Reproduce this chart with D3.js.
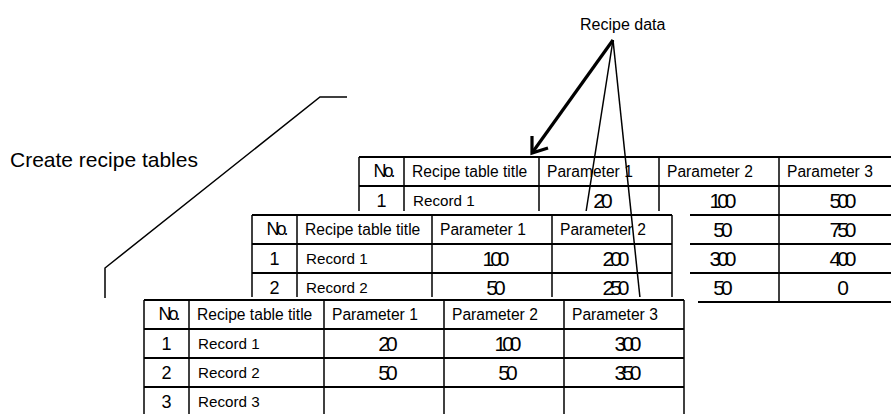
<!DOCTYPE html>
<html><head><meta charset="utf-8">
<script src="https://cdn.jsdelivr.net/npm/d3@7"></script>
<style>body{margin:0;background:#fff} svg{display:block}</style>
</head><body>
<script>
// ---------- data ----------
const headers = ["No.", "Recipe table title", "Parameter 1", "Parameter 2", "Parameter 3"];
// back table (partly hidden)
const tableANo = ["1", "", "", ""];
const tableATitles = ["Record 1", "", "", ""];
const tableAParam1 = [20, null, null, null];
const tableAParam2 = [100, 50, 300, 50];
const tableAParam3 = [500, 750, 400, 0];
// middle table
const tableBNo = ["1", "2"];
const tableBTitles = ["Record 1", "Record 2"];
const tableBParam1 = [100, 50];
const tableBParam2 = [200, 250];
// front table
const tableCNo = ["1", "2", "3"];
const tableCTitles = ["Record 1", "Record 2", "Record 3"];
const tableCParam1 = [20, 50, null];
const tableCParam2 = [100, 50, null];
const tableCParam3 = [300, 350, null];
const labels = ["Create recipe tables", "Recipe data"];

// ---------- layout ----------
const W = 891, H = 414;
const FONT = "'Liberation Sans', Arial, Helvetica, sans-serif";
const colWidths = [45, 135, 120, 120, 120];
const rowH = 29;

const svg = d3.select("body").append("svg").attr("width", W).attr("height", H)
  .style("font-family", FONT);

function drawTable(cfg) {
  const nCols = cfg.cols.length + 2;
  const edges = [0, ...Array.from(d3.cumsum(colWidths.slice(0, nCols)))];
  const total = edges[nCols];
  const x = d3.scaleLinear().domain([0, total]).range([cfg.x, cfg.x + total]);
  const nRows = cfg.no.length + 1;
  const y = d3.scaleLinear().domain([0, nRows]).range([cfg.y, cfg.y + nRows * rowH]);
  const g = svg.append("g");
  if (cfg.mask) {
    const m = cfg.mask;
    g.append("rect").attr("x", x(0) - m[3]).attr("y", y(0) - m[0])
      .attr("width", x(total) - x(0) + m[1] + m[3])
      .attr("height", y(nRows) - y(0) + m[0] + m[2]).attr("fill", "#fff");
  }
  // horizontal lines
  g.append("g").selectAll("line").data(d3.range(nRows + 1)).join("line")
    .attr("x1", x(0)).attr("x2", x(total))
    .attr("y1", d => y(d)).attr("y2", d => y(d))
    .attr("stroke", "#000").attr("stroke-width", 1.8);
  // vertical lines
  g.append("g").selectAll("line").data(edges).join("line")
    .attr("x1", d => x(d)).attr("x2", d => x(d))
    .attr("y1", y(0)).attr("y2", y(nRows))
    .attr("stroke", "#000").attr("stroke-width", 1.5);
  const hdr = headers.slice(0, nCols);
  // header texts
  g.append("g").selectAll("text").data(hdr).join("text")
    .attr("x", (d, i) => i === 0 ? (x(edges[0]) + x(edges[1])) / 2 + 1.5 : x(edges[i]) + 8)
    .attr("y", (y(0) + y(1)) / 2 + 5.5)
    .attr("text-anchor", (d, i) => i === 0 ? "middle" : "start")
    .attr("font-size", (d, i) => i === 0 ? 18 : 15.6)
    .attr("letter-spacing", (d, i) => i === 0 ? -3 : 0)
    .text(d => d);
  // row numbers
  g.append("g").selectAll("text").data(cfg.no).join("text")
    .attr("x", (x(edges[0]) + x(edges[1])) / 2)
    .attr("y", (d, i) => (y(i + 1) + y(i + 2)) / 2 + 6.5)
    .attr("text-anchor", "middle").attr("font-size", 18).text(d => d);
  // record titles
  g.append("g").selectAll("text").data(cfg.titles).join("text")
    .attr("x", x(edges[1]) + 9)
    .attr("y", (d, i) => (y(i + 1) + y(i + 2)) / 2 + 5.5)
    .attr("font-size", 15.2).text(d => d);
  // parameter values
  cfg.cols.forEach((vals, c) => {
    const cx = (x(edges[c + 2]) + x(edges[c + 3])) / 2;
    g.append("g").selectAll("text").data(vals).join("text")
      .attr("x", cx + 2)
      .attr("y", (d, i) => (y(i + 1) + y(i + 2)) / 2 + 7.5)
      .attr("text-anchor", "middle").attr("font-size", 21).attr("letter-spacing", -4)
      .text(d => d == null ? "" : String(d));
  });
  return { x, y, edges };
}

// back table
drawTable({ x: 359, y: 157, no: tableANo, titles: tableATitles,
  cols: [tableAParam1, tableAParam2, tableAParam3] });

// arrows from "Recipe data"
const apex = [613, 40];
const thick = [532, 153];
svg.append("line").attr("x1", apex[0]).attr("y1", apex[1]).attr("x2", thick[0]).attr("y2", thick[1])
  .attr("stroke", "#000").attr("stroke-width", 3.2);
svg.append("path").attr("d", `M${thick[0]},${thick[1] - 17} L${thick[0]},${thick[1]} L${thick[0] + 16},${thick[1] - 5}`)
  .attr("fill", "none").attr("stroke", "#000").attr("stroke-width", 3.2);
svg.append("line").attr("x1", apex[0]).attr("y1", apex[1]).attr("x2", 586).attr("y2", 212)
  .attr("stroke", "#000").attr("stroke-width", 1.5);

// middle table
drawTable({ x: 252, y: 215, no: tableBNo, titles: tableBTitles,
  cols: [tableBParam1, tableBParam2], mask: [4, 18, 2, 2] });

svg.append("line").attr("x1", apex[0]).attr("y1", apex[1]).attr("x2", 640).attr("y2", 298)
  .attr("stroke", "#000").attr("stroke-width", 1.5);

// front table
drawTable({ x: 144, y: 300, no: tableCNo, titles: tableCTitles,
  cols: [tableCParam1, tableCParam2, tableCParam3], mask: [3, 14, 30, 2] });

// bracket line
svg.append("path").attr("d", "M347,97 L320,97 L105,268 L105,298")
  .attr("fill", "none").attr("stroke", "#000").attr("stroke-width", 1.5);

// labels
svg.append("text").attr("x", 10).attr("y", 167).attr("font-size", 21).text(labels[0]);
svg.append("text").attr("x", 580).attr("y", 30).attr("font-size", 16).text(labels[1]);
</script>
</body></html>
